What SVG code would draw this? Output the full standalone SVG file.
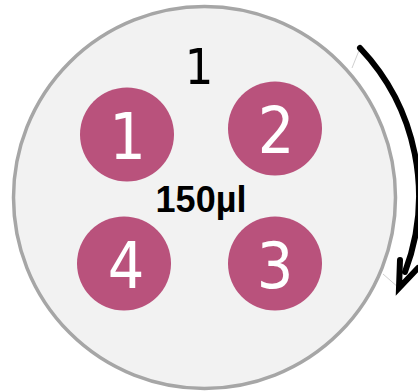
<svg xmlns="http://www.w3.org/2000/svg" width="418" height="392" viewBox="0 0 418 392">
<style>
.well{fill:#b9527c}
.num{font-family:"DejaVu Sans Condensed","DejaVu Sans",sans-serif;font-size:64px;fill:#fff;text-anchor:middle}
.lbl{font-family:"DejaVu Sans Condensed","DejaVu Sans",sans-serif;font-size:50px;fill:#000;text-anchor:middle}
.vol{font-family:"Liberation Sans",Arial,sans-serif;font-weight:bold;font-size:36px;fill:#000;text-anchor:middle}
</style>
<rect width="418" height="392" fill="#fff"/>
<g id="plate">
<circle cx="204.5" cy="197.5" r="191" fill="#f2f2f2" stroke="#a6a6a6" stroke-width="3.5"/>
<text class="lbl" x="199" y="84">1</text>
<text class="vol" x="201" y="212">150µl</text>
</g>
<g id="well1"><circle class="well" cx="127" cy="134.5" r="47"/><text class="num" x="127.5" y="159">1</text></g>
<g id="well2"><circle class="well" cx="275" cy="128.5" r="47"/><text class="num" x="276" y="153">2</text></g>
<g id="well3"><circle class="well" cx="275" cy="263.5" r="47"/><text class="num" x="275" y="288">3</text></g>
<g id="well4"><circle class="well" cx="124" cy="263.5" r="47"/><text class="num" x="126" y="288">4</text></g>
<g id="connectors" fill="none">
<line x1="360" y1="48" x2="352" y2="68" stroke="#d0d0d0" stroke-width="1"/>
<line x1="399" y1="288" x2="383" y2="274" stroke="#d0d0d0" stroke-width="1"/>
<path d="M360 48 A215 215 0 0 1 405 272" stroke="#000" stroke-width="6" stroke-linecap="round"/>
<polyline points="400,260 399,288 418,268" stroke="#000" stroke-width="6" stroke-linejoin="miter" stroke-linecap="round"/>
</g>
</svg>
